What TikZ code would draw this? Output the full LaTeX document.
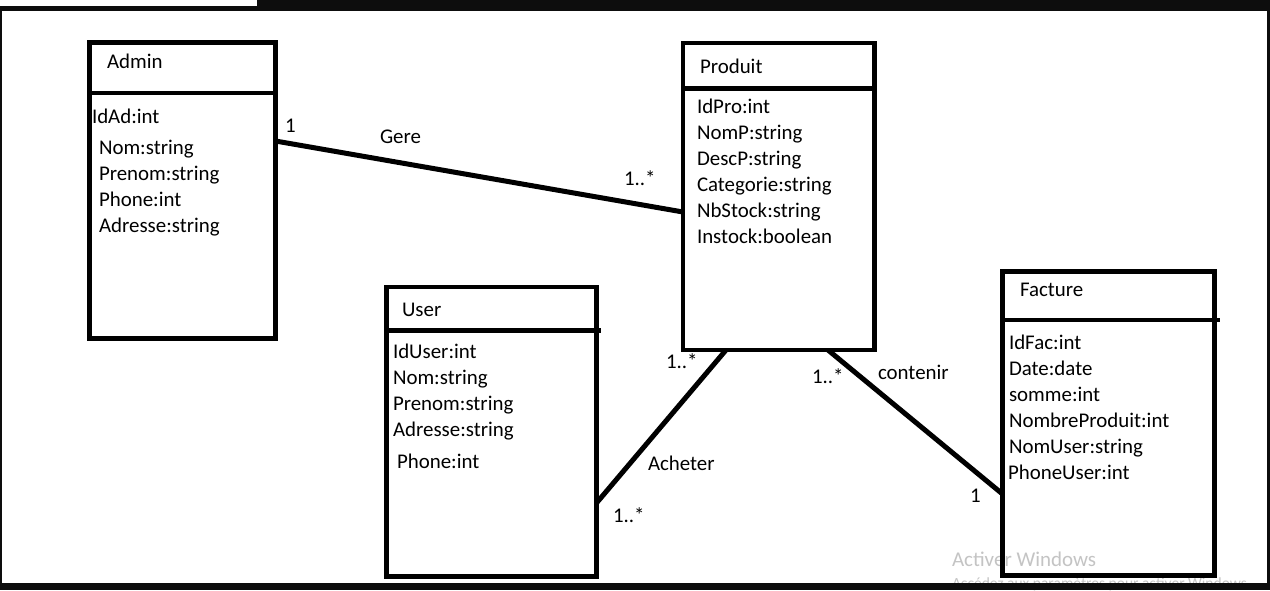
\documentclass[tikz,border=0pt]{standalone}
\usepackage{fontspec}
\setmainfont{Carlito}
\definecolor{framecol}{HTML}{0D0D0D}
\definecolor{wmcol}{HTML}{C4C4C4}
\begin{document}
\begin{tikzpicture}[x=1pt,y=-1pt,
  cls/.style={draw=black, line width=4.8pt, inner sep=0pt, outer sep=0pt, rectangle},
  hdr/.style={draw=black, line width=4.8pt},
  txt/.style={anchor=base west, inner sep=0pt, outer sep=0pt, font=\fontsize{20.9}{24}\selectfont},
  wm/.style={anchor=base west, inner sep=0pt, outer sep=0pt, text=wmcol},
  assoc/.style={draw=black, line width=5pt}]
\useasboundingbox (0,0) rectangle (1270,590);
\fill[white] (0,0) rectangle (1270,590);

% watermark
\node[wm, font=\fontsize{21}{24}\selectfont] (wm1) at (952,566) {Activer Windows};
\node[wm, font=\fontsize{15.5}{18}\selectfont] (wm2) at (952,588) {Accédez aux paramètres pour activer Windows.};

% frame
\fill[framecol] (257,0) rectangle (1270,11);
\fill[framecol] (0,6) rectangle (257,11);
\fill[framecol] (0,6) rectangle (2,590);
\fill[framecol] (1267,0) rectangle (1270,590);
\fill[framecol] (0,583) rectangle (1270,590);

% classes
\node[cls, minimum width=186pt, minimum height=296pt] (admin) at (182.5,190.5) {};
\draw[hdr] (admin.west |- 0,93) -- (admin.east |- 0,93);
\node[cls, minimum width=191.5pt, minimum height=307pt] (produit) at (778.75,196.5) {};
\draw[hdr] (produit.west |- 0,88.5) -- (produit.east |- 0,88.5);
\node[cls, minimum width=210pt, minimum height=289.5pt] (user) at (491.5,431.75) {};
\draw[hdr] (user.west |- 0,330.5) -- (601,330.5);
\node[cls, minimum width=212pt, minimum height=304pt] (facture) at (1108.5,423.5) {};
\draw[hdr] (facture.west |- 0,320) -- (1220,320);

% Admin texts
\node[txt] (tA) at (107,68) {Admin};
\node[txt] (a1) at (92,123) {IdAd:int};
\node[txt] (a2) at (99,154) {Nom:string};
\node[txt] (a3) at (99,180) {Prenom:string};
\node[txt] (a4) at (99,206) {Phone:int};
\node[txt] (a5) at (99,232) {Adresse:string};

% Produit texts
\node[txt] (tP) at (700,73) {Produit};
\node[txt] (p1) at (697,113) {IdPro:int};
\node[txt] (p2) at (697,139) {NomP:string};
\node[txt] (p3) at (697,165) {DescP:string};
\node[txt] (p4) at (697,191) {Categorie:string};
\node[txt] (p5) at (697,217) {NbStock:string};
\node[txt] (p6) at (697,243) {Instock:boolean};

% User texts
\node[txt] (tU) at (402,316) {User};
\node[txt] (u1) at (393,358) {IdUser:int};
\node[txt] (u2) at (393,384) {Nom:string};
\node[txt] (u3) at (393,410) {Prenom:string};
\node[txt] (u4) at (393,436) {Adresse:string};
\node[txt] (u5) at (397,468) {Phone:int};

% Facture texts
\node[txt] (tF) at (1020,296) {Facture};
\node[txt] (f1) at (1009,349) {IdFac:int};
\node[txt] (f2) at (1009,375) {Date:date};
\node[txt] (f3) at (1009,401) {somme:int};
\node[txt] (f4) at (1009,427) {NombreProduit:int};
\node[txt] (f5) at (1009,453) {NomUser:string};
\node[txt] (f6) at (1008,479) {PhoneUser:int};

% associations
\draw[assoc] (admin.east |- 0,141) -- (produit.west |- 0,212);
\draw[assoc] (produit.south -| 726,0) -- (user.east |- 0,503);
\draw[assoc] (produit.south -| 828,0) -- (facture.west |- 0,494);

% labels
\node[txt] (m1) at (285,132) {1};
\node[txt] (lG) at (380,143) {Gere};
\node[txt] (m2) at (624,185) {1..*};
\node[txt] (m3) at (666,368) {1..*};
\node[txt] (lA) at (648,470) {Acheter};
\node[txt] (m4) at (613,522) {1..*};
\node[txt] (m5) at (812,383) {1..*};
\node[txt] (lC) at (878,379) {contenir};
\node[txt] (m6) at (970,502) {1};
\end{tikzpicture}
\end{document}
